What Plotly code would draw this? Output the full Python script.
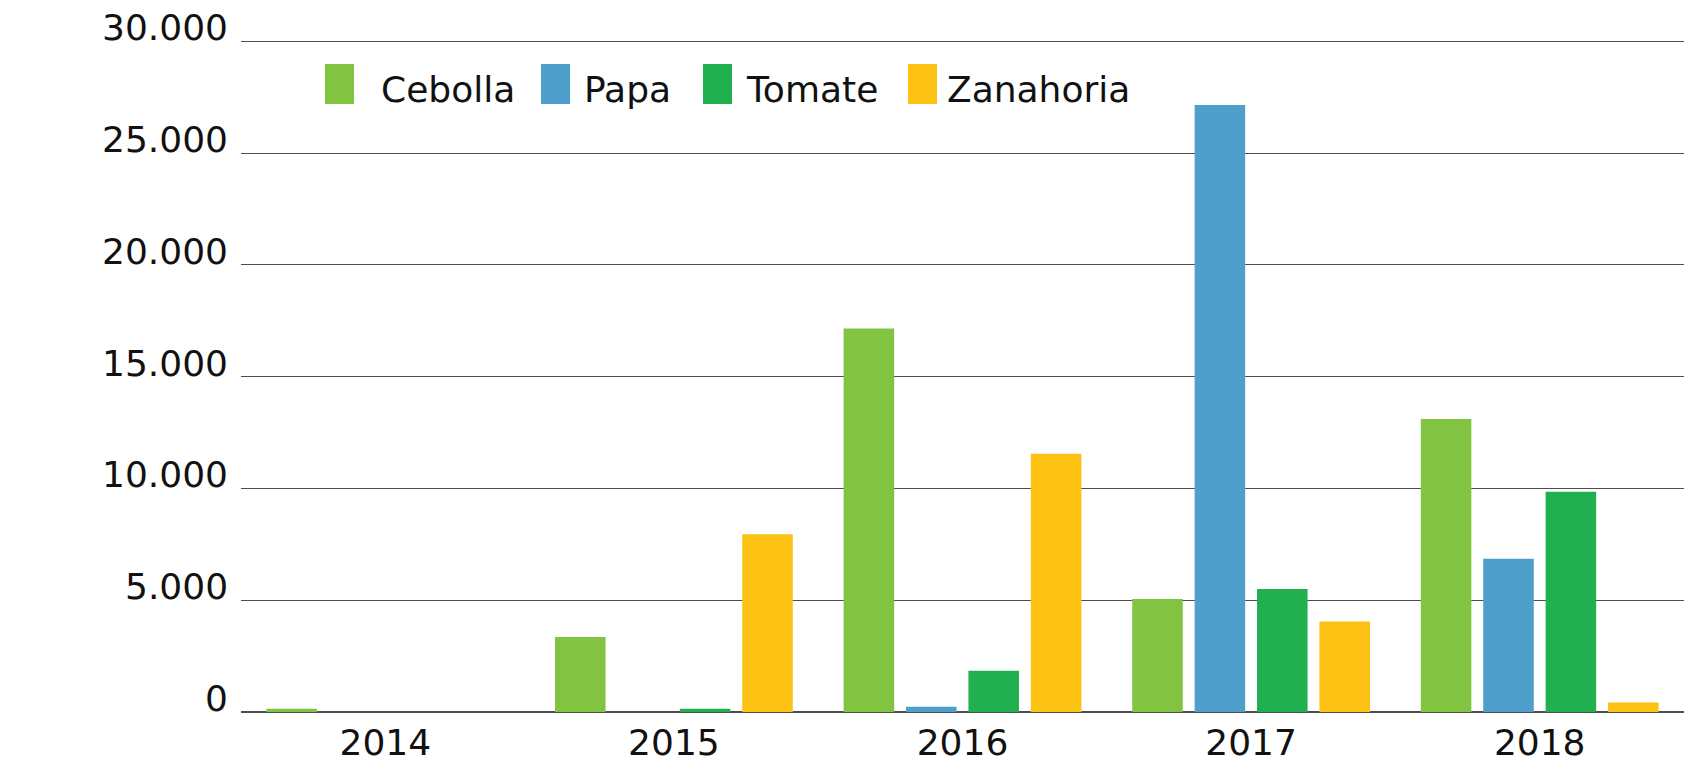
import plotly.graph_objects as go

# ---- data ----
years = ["2014", "2015", "2016", "2017", "2018"]
series_names = ["Cebolla", "Papa", "Tomate", "Zanahoria"]
cebolla = [150, 3350, 17150, 5050, 13100]
papa = [0, 0, 230, 27150, 6850]
tomate = [0, 150, 1850, 5500, 9850]
zanahoria = [0, 7950, 11550, 4050, 420]
series_values = [cebolla, papa, tomate, zanahoria]
colors = ["#82C341", "#4E9FCB", "#21B04F", "#FCC113"]
y_tick_vals = [0, 5000, 10000, 15000, 20000, 25000, 30000]
y_tick_text = ["0", "5.000", "10.000", "15.000", "20.000", "25.000", "30.000"]

# ---- layout constants (pixels) ----
W, H = 1684, 762
ML, MR, MT, MB = 241, 0, 39, 50
PW, PH = W - ML - MR, H - MT - MB
FONT = "DejaVu Sans"
FS = 36
Y_MAX = 30100

def px_x(px):
    return (px - ML) / PW

def px_y(py):
    return (H - MB - py) / PH

fig = go.Figure()
for name, vals, col in zip(series_names, series_values, colors):
    fig.add_trace(go.Bar(
        name=name, x=years, y=vals,
        marker=dict(color=col, line=dict(width=0)),
        showlegend=False,
    ))

# custom legend (tall swatches like the reference)
leg_swatch_x = [325, 541, 703, 908]
leg_text_x = [379, 582, 744, 945]
shapes, annotations = [], []
for i, (name, col) in enumerate(zip(series_names, colors)):
    shapes.append(dict(type="rect", xref="paper", yref="paper",
                       x0=px_x(leg_swatch_x[i]), x1=px_x(leg_swatch_x[i] + 29),
                       y0=px_y(104), y1=px_y(64), fillcolor=col, line=dict(width=0)))
    annotations.append(dict(text=name, xref="paper", yref="paper",
                            x=px_x(leg_text_x[i]), y=px_y(90), xanchor="left", yanchor="middle",
                            showarrow=False, font=dict(family=FONT, size=FS, color="#111")))

# y tick labels sit on top of their grid lines, as in the reference
for v, t in zip(y_tick_vals, y_tick_text):
    annotations.append(dict(text=t, xref="paper", yref="y", x=px_x(230), y=v,
                            xanchor="right", yanchor="bottom", yshift=-9,
                            showarrow=False, font=dict(family=FONT, size=FS, color="#111")))

fig.update_layout(
    width=W, height=H,
    margin=dict(l=ML, r=MR, t=MT, b=MB, pad=0),
    paper_bgcolor="white", plot_bgcolor="white",
    barmode="group", bargap=0.135, bargroupgap=0.19,
    separators=",.",
    font=dict(family=FONT, size=FS, color="#111"),
    shapes=shapes, annotations=annotations,
    showlegend=False,
)
fig.update_xaxes(type="category", showgrid=False, ticks="", showline=False,
                 ticklabelstandoff=6,
                 tickfont=dict(family=FONT, size=FS, color="#111"))
fig.update_yaxes(range=[0, Y_MAX], tickvals=y_tick_vals,
                 showgrid=True, gridcolor="#4d4d4d", gridwidth=1,
                 zeroline=True, zerolinecolor="#4d4d4d", zerolinewidth=1.5,
                 ticks="", showticklabels=False)

fig.write_html("out.html", config={"displayModeBar": False},
               post_script="document.body.style.margin='0';document.body.style.overflow='hidden';")
